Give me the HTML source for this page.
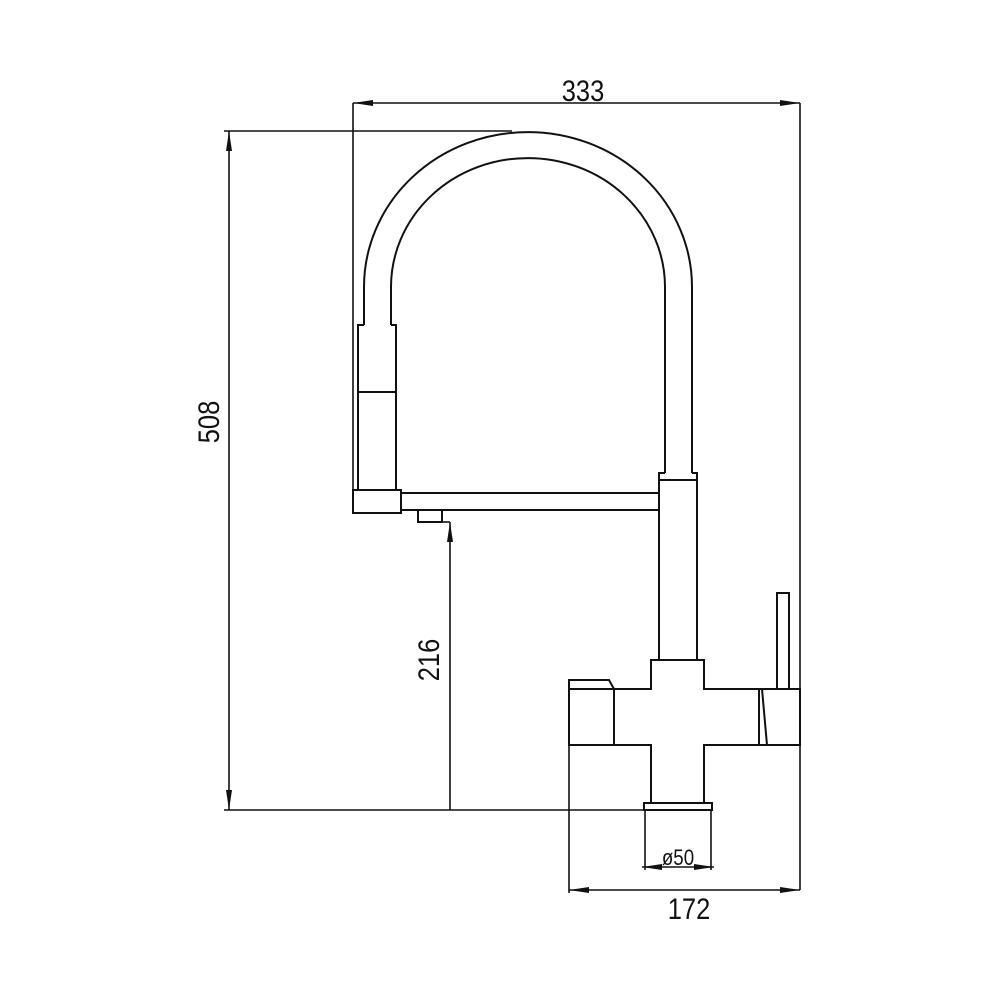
<!DOCTYPE html>
<html><head><meta charset="utf-8"><style>html,body{margin:0;padding:0;background:#fff}svg{display:block}</style></head>
<body>
<svg width="1000" height="1000" viewBox="0 0 1000 1000" xmlns="http://www.w3.org/2000/svg">
<defs>
<marker id="a" viewBox="0 0 20 8" refX="20" refY="4" markerWidth="20" markerHeight="8" markerUnits="userSpaceOnUse" orient="auto-start-reverse"><path d="M0,1 L20,4 L0,7 Z" fill="#111"/></marker>
</defs>
<g fill="none" stroke="#111" stroke-width="2">
<!-- arch -->
<path d="M364,325 L364,287 A164,155 0 0 1 692,287 L692,473"/>
<path d="M391,325 L391,287 A137,129 0 0 1 665,287 L665,473"/>
<!-- spray head -->
<path d="M364,325 L358,325 L358,490 M391,325 L396,325 L396,490"/>
<line x1="358" y1="392" x2="396" y2="392"/>
<rect x="353" y="490" width="48" height="23"/>
<!-- horizontal arm -->
<path d="M401,493 L659,493 M401,510 L659,510"/>
<rect x="418" y="510" width="24" height="12"/>
<!-- collar + stem -->
<path d="M665,473 L659,473 L659,660 M692,473 L697,473 L697,660 M659,480 L697,480"/>
<!-- body -->
<path d="M651,660 L704,660 L704,689 L800,689 L800,745 L704,745 L704,803 L651,803 L651,745 L614,745 L614,689 L651,689 Z"/>
<path d="M614,689 L569,689 L569,745 L614,745 M569,689 L569,680 L609,680 L614,689"/>
<path d="M759,689 L759,745 M762,689 L767,745"/>
<rect x="777" y="593" width="12" height="96"/>
<rect x="644" y="803" width="68" height="7"/>
</g>
<g fill="none" stroke="#111" stroke-width="1.6">
<!-- 333 -->
<line x1="353" y1="103" x2="353" y2="490"/>
<line x1="800" y1="103" x2="800" y2="890"/>
<line x1="353" y1="103" x2="800" y2="103" marker-start="url(#a)" marker-end="url(#a)"/>
<!-- 508 -->
<line x1="224" y1="131" x2="512" y2="131"/>
<line x1="224" y1="810" x2="644" y2="810"/>
<line x1="229" y1="131" x2="229" y2="810" marker-start="url(#a)" marker-end="url(#a)"/>
<!-- 216 -->
<line x1="442" y1="522" x2="450" y2="522"/>
<line x1="450" y1="522" x2="450" y2="810" marker-start="url(#a)"/>
<!-- 50 -->
<line x1="645" y1="810" x2="645" y2="870"/>
<line x1="711" y1="810" x2="711" y2="870"/>
<line x1="642" y1="867" x2="714" y2="867" marker-start="url(#a)" marker-end="url(#a)"/>
<!-- 172 -->
<line x1="569" y1="745" x2="569" y2="893"/>
<line x1="569" y1="890" x2="800" y2="890" marker-start="url(#a)" marker-end="url(#a)"/>
</g>
<g font-family="'Liberation Sans', sans-serif" fill="#111" text-anchor="middle">
<text x="583" y="101" font-size="30" transform="translate(583 0) scale(0.85 1) translate(-583 0)">333</text>
<text x="0" y="0" font-size="30" transform="translate(219 422) rotate(-90) scale(0.85 1)">508</text>
<text x="0" y="0" font-size="30" transform="translate(439 660) rotate(-90) scale(0.85 1)">216</text>
<text x="678" y="865" font-size="22" transform="translate(678 0) scale(0.85 1) translate(-678 0)">ø50</text>
<text x="689" y="919" font-size="30" transform="translate(689 0) scale(0.85 1) translate(-689 0)">172</text>
</g>
</svg>
</body></html>
